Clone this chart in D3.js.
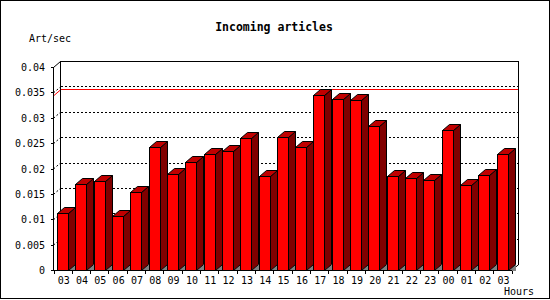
<!DOCTYPE html>
<html>
<head>
<meta charset="utf-8">
<script src="https://cdn.jsdelivr.net/npm/d3@7"></script>
<style>
  body { margin: 0; background: #fff; }
  text { font-family: "DejaVu Sans Mono", monospace; font-size: 10px; fill: #000; }
</style>
</head>
<body>
<div id="chart"></div>
<script>
const hours = ["03", "04", "05", "06", "07", "08", "09", "10", "11", "12", "13", "14", "15",
  "16", "17", "18", "19", "20", "21", "22", "23", "00", "01", "02", "03"];
const artPerSec = [0.0112, 0.0169, 0.0175, 0.0106, 0.0153, 0.0242, 0.0189, 0.0213, 0.0229,
  0.0235, 0.026, 0.0186, 0.0263, 0.0242, 0.0344, 0.0337, 0.0335, 0.0284, 0.0186, 0.0181,
  0.0178, 0.0275, 0.0167, 0.0187, 0.0229];
const yTicks = [0, 0.005, 0.01, 0.015, 0.02, 0.025, 0.03, 0.035, 0.04];
const yTickLabels = ["0", "0.005", "0.01", "0.015", "0.02", "0.025", "0.03", "0.035", "0.04"];

const width = 550;
const height = 300;
const depthX = 7;
const depthY = 6;

const svg = d3.select("#chart")
  .append("svg")
  .attr("width", width)
  .attr("height", height)
  .attr("shape-rendering", "crispEdges");

svg.append("rect")
  .attr("x", 0.5).attr("y", 0.5)
  .attr("width", 549).attr("height", 298)
  .attr("fill", "#fff").attr("stroke", "#000");

const x = d3.scaleBand()
  .domain(d3.range(hours.length))
  .range([53.5, 511.7])
  .padding(0);

const y = d3.scaleLinear()
  .domain([0, 0.04])
  .range([270.5, 67.5]);

const left = x.range()[0];
const right = x.range()[1];
const y0 = y(0);
const yTop = y(0.04);

// back wall grid
const grid = svg.append("g").attr("class", "grid");

grid.selectAll(".hgrid")
  .data(yTicks.filter(t => t > 0 && t < 0.04))
  .enter()
  .append("line")
  .attr("x1", left + depthX).attr("x2", right + depthX)
  .attr("y1", d => y(d) - depthY).attr("y2", d => y(d) - depthY)
  .attr("stroke", "#000")
  .attr("stroke-dasharray", "2,2");

grid.selectAll(".dgrid")
  .data(yTicks.filter(t => t > 0 && t < 0.04))
  .enter()
  .append("line")
  .attr("x1", left).attr("x2", left + depthX)
  .attr("y1", d => y(d)).attr("y2", d => y(d) - depthY)
  .attr("stroke", "#000")
  .attr("stroke-dasharray", "2,2")
  .attr("shape-rendering", "auto");

// peak line
const peak = d3.max(artPerSec);
grid.append("line")
  .attr("x1", left + depthX).attr("x2", right + depthX)
  .attr("y1", y(peak) - depthY).attr("y2", y(peak) - depthY)
  .attr("stroke", "#f00");
grid.append("line")
  .attr("x1", left).attr("x2", left + depthX)
  .attr("y1", y(peak)).attr("y2", y(peak) - depthY)
  .attr("stroke", "#f00")
  .attr("shape-rendering", "auto");

// back frame
grid.append("path")
  .attr("d", `M${left + depthX},${y0 - depthY}V${yTop - depthY}H${right + depthX}V${y0 - depthY}`)
  .attr("fill", "none")
  .attr("stroke", "#000");
grid.append("line")
  .attr("x1", left).attr("y1", yTop)
  .attr("x2", left + depthX).attr("y2", yTop - depthY)
  .attr("stroke", "#000")
  .attr("shape-rendering", "auto");
grid.append("line")
  .attr("x1", right).attr("y1", y0)
  .attr("x2", right + depthX).attr("y2", y0 - depthY)
  .attr("stroke", "#000")
  .attr("shape-rendering", "auto");

// bars
const barOffset = 3.4;
const barWidth = 11;

const bars = svg.append("g")
  .selectAll(".bar")
  .data(artPerSec)
  .enter()
  .append("g")
  .attr("class", "bar");

const bx0 = (d, i) => Math.round(x(i) + barOffset) + 0.5;
const bx1 = (d, i) => bx0(d, i) + barWidth;
const by = d => Math.round(y(d) - 0.5) + 0.5;

bars.append("path")
  .attr("d", (d, i) => `M${bx1(d, i)},${y0}L${bx1(d, i) + depthX},${y0 - depthY}V${y0}Z`)
  .attr("fill", "#808080");

bars.append("path")
  .attr("d", (d, i) => `M${bx1(d, i)},${by(d)}L${bx1(d, i) + depthX},${by(d) - depthY}` +
    `V${y0 - depthY}L${bx1(d, i)},${y0}Z`)
  .attr("fill", "#800000")
  .attr("stroke", "#000")
  .attr("shape-rendering", "auto");

bars.append("path")
  .attr("d", (d, i) => `M${bx0(d, i)},${by(d)}L${bx0(d, i) + depthX},${by(d) - depthY}` +
    `H${bx1(d, i) + depthX}L${bx1(d, i)},${by(d)}Z`)
  .attr("fill", "#c00000")
  .attr("stroke", "#000")
  .attr("shape-rendering", "auto");

bars.append("rect")
  .attr("x", bx0)
  .attr("y", by)
  .attr("width", barWidth)
  .attr("height", d => y0 - by(d))
  .attr("fill", "#f00")
  .attr("stroke", "#000");

// axes
const yAxis = svg.append("g");
yAxis.append("line")
  .attr("x1", left).attr("x2", left)
  .attr("y1", yTop).attr("y2", y0)
  .attr("stroke", "#000");
yAxis.selectAll(".tick")
  .data(yTicks)
  .enter()
  .append("line")
  .attr("x1", left - 3).attr("x2", left)
  .attr("y1", d => Math.round(y(d) - 0.5) + 0.5).attr("y2", d => Math.round(y(d) - 0.5) + 0.5)
  .attr("stroke", "#000");
yAxis.selectAll(".label")
  .data(yTicks)
  .enter()
  .append("text")
  .attr("x", 45)
  .attr("y", d => y(d) + 3.5)
  .attr("text-anchor", "end")
  .text((d, i) => yTickLabels[i]);

const xAxis = svg.append("g");
xAxis.append("line")
  .attr("x1", left).attr("x2", right)
  .attr("y1", y0).attr("y2", y0)
  .attr("stroke", "#000");
xAxis.selectAll(".tick")
  .data(d3.range(hours.length + 1))
  .enter()
  .append("line")
  .attr("x1", i => Math.round(left + i * x.step()) + 0.5)
  .attr("x2", i => Math.round(left + i * x.step()) + 0.5)
  .attr("y1", y0).attr("y2", y0 + 3)
  .attr("stroke", "#000");
xAxis.selectAll(".label")
  .data(hours)
  .enter()
  .append("text")
  .attr("x", (d, i) => x(i) + x.bandwidth() / 2 + 1)
  .attr("y", 284)
  .attr("text-anchor", "middle")
  .text(d => d);

// titles
svg.append("text")
  .attr("x", 274)
  .attr("y", 31)
  .attr("text-anchor", "middle")
  .style("font-weight", "bold")
  .style("font-size", "11.5px")
  .text("Incoming articles");

svg.append("text")
  .attr("x", 29)
  .attr("y", 42)
  .text("Art/sec");

svg.append("text")
  .attr("x", 504)
  .attr("y", 295)
  .text("Hours");
</script>
</body>
</html>
